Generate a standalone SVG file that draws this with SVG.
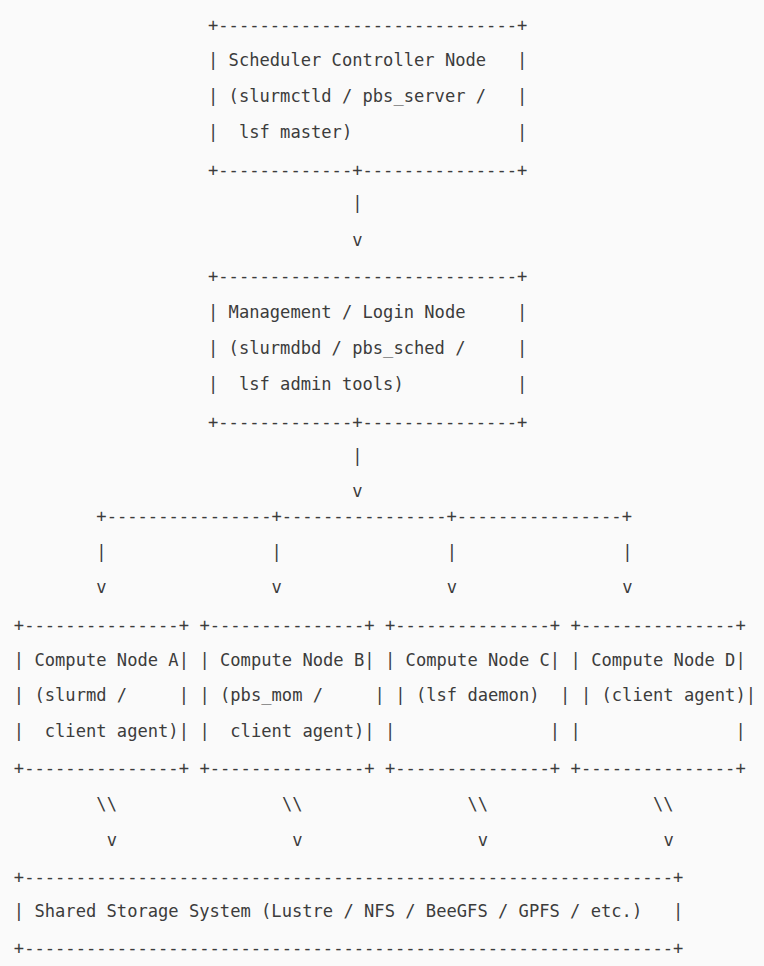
<svg xmlns="http://www.w3.org/2000/svg" width="764" height="966" viewBox="0 0 764 966" xml:space="preserve">
<style>
.t { font-family: "DejaVu Sans Mono", "Liberation Mono", monospace; font-size: 17.13px; fill: #3c3c3c; white-space: pre; }
</style>
<rect x="0" y="0" width="764" height="966" fill="#fafafa"/>
<g id="scheduler-controller">
<text class="t" x="208" y="30.5">+-----------------------------+</text>
<text class="t" x="208" y="65.7">| Scheduler Controller Node   |</text>
<text class="t" x="208" y="101.7">| (slurmctld / pbs_server /   |</text>
<text class="t" x="208" y="137.7">|  lsf master)                |</text>
<text class="t" x="208" y="175.5">+-------------+---------------+</text>
</g>
<g id="management-login">
<text class="t" x="208" y="282.2">+-----------------------------+</text>
<text class="t" x="208" y="318.3">| Management / Login Node     |</text>
<text class="t" x="208" y="354.3">| (slurmdbd / pbs_sched /     |</text>
<text class="t" x="208" y="390">|  lsf admin tools)           |</text>
<text class="t" x="208" y="427.8">+-------------+---------------+</text>
</g>
<g id="compute-a">
<text class="t" x="13.85" y="630.5">+---------------+</text>
<text class="t" x="13.85" y="665.7">| Compute Node A|</text>
<text class="t" x="13.85" y="700.7">| (slurmd /     |</text>
<text class="t" x="13.85" y="736.7">|  client agent)|</text>
<text class="t" x="13.85" y="773.8">+---------------+</text>
</g>
<g id="compute-b">
<text class="t" x="199.43" y="630.5">+---------------+</text>
<text class="t" x="199.43" y="665.7">| Compute Node B|</text>
<text class="t" x="199.43" y="700.7">| (pbs_mom /     |</text>
<text class="t" x="199.43" y="736.7">|  client agent)|</text>
<text class="t" x="199.43" y="773.8">+---------------+</text>
</g>
<g id="compute-c">
<text class="t" x="385.01" y="630.5">+---------------+</text>
<text class="t" x="385.01" y="665.7">| Compute Node C|</text>
<text class="t" x="395.32" y="700.7">| (lsf daemon)  |</text>
<text class="t" x="385.01" y="736.7">|               |</text>
<text class="t" x="385.01" y="773.8">+---------------+</text>
</g>
<g id="compute-d">
<text class="t" x="570.59" y="630.5">+---------------+</text>
<text class="t" x="570.59" y="665.7">| Compute Node D|</text>
<text class="t" x="580.9" y="700.7">| (client agent)|</text>
<text class="t" x="570.59" y="736.7">|               |</text>
<text class="t" x="570.59" y="773.8">+---------------+</text>
</g>
<g id="shared-storage">
<text class="t" x="13.85" y="882.8">+---------------------------------------------------------------+</text>
<text class="t" x="13.85" y="917.3">| Shared Storage System (Lustre / NFS / BeeGFS / GPFS / etc.)   |</text>
<text class="t" x="13.85" y="953.8">+---------------------------------------------------------------+</text>
</g>
<g id="connectors">
<text class="t" x="352.34" y="209">|</text>
<text class="t" x="352.34" y="246">v</text>
<text class="t" x="352.34" y="462">|</text>
<text class="t" x="352.34" y="497.3">v</text>
<text class="t" x="96.33" y="522.2">+----------------+----------------+----------------+</text>
<text class="t" x="96.33" y="557.7">|</text>
<text class="t" x="271.6" y="557.7">|</text>
<text class="t" x="446.87" y="557.7">|</text>
<text class="t" x="622.14" y="557.7">|</text>
<text class="t" x="96.33" y="593">v</text>
<text class="t" x="271.6" y="593">v</text>
<text class="t" x="446.87" y="593">v</text>
<text class="t" x="622.14" y="593">v</text>
<text class="t" x="96.33" y="810">\\</text>
<text class="t" x="281.91" y="810">\\</text>
<text class="t" x="467.49" y="810">\\</text>
<text class="t" x="653.07" y="810">\\</text>
<text class="t" x="106.64" y="846">v</text>
<text class="t" x="292.22" y="846">v</text>
<text class="t" x="477.8" y="846">v</text>
<text class="t" x="663.38" y="846">v</text>
</g>
</svg>
